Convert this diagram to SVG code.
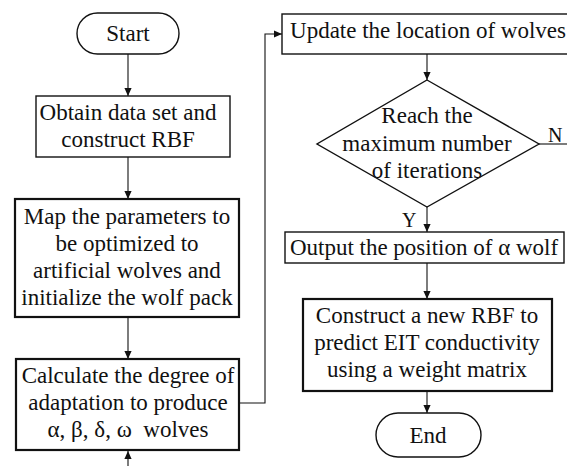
<svg xmlns="http://www.w3.org/2000/svg" width="567" height="466" viewBox="0 0 567 466">
<style>
text{font-family:"Liberation Serif","Times New Roman",serif;font-size:23px;fill:#111;text-anchor:middle}
.thin{fill:#fff;stroke:#111;stroke-width:1.4}
.thick{fill:#fff;stroke:#111;stroke-width:2.2}
.con{fill:none;stroke:#111;stroke-width:1.1}
.lbl{font-size:20px;text-anchor:start}
</style>
<defs>
<marker id="ah" viewBox="0 0 10 10" refX="10" refY="5" markerWidth="8" markerHeight="8" markerUnits="userSpaceOnUse" orient="auto">
<path d="M0,0.5 L10,5 L0,9.5 Z" fill="#111"/>
</marker>
</defs>
<rect width="567" height="466" fill="#fff"/>
<g id="connectors">
<line class="con" x1="128" y1="54" x2="128" y2="96" marker-end="url(#ah)"/>
<line class="con" x1="128" y1="157" x2="128" y2="199" marker-end="url(#ah)"/>
<line class="con" x1="128" y1="317" x2="128" y2="359" marker-end="url(#ah)"/>
<line class="con" x1="128" y1="466" x2="128" y2="451" marker-end="url(#ah)"/>
<polyline class="con" points="239,403 265,403 265,34 282,34" marker-end="url(#ah)"/>
<line class="con" x1="427" y1="54" x2="427" y2="80" marker-end="url(#ah)"/>
<line class="con" x1="539" y1="144" x2="567" y2="144"/>
<line class="con" x1="427" y1="207" x2="427" y2="232" marker-end="url(#ah)"/>
<line class="con" x1="427" y1="263" x2="427" y2="299" marker-end="url(#ah)"/>
<line class="con" x1="427" y1="391" x2="427" y2="413" marker-end="url(#ah)"/>
<text class="lbl" x="548" y="142">N</text>
<text class="lbl" x="402" y="227">Y</text>
</g>
<g id="start">
<rect class="thin" x="77" y="13" width="102" height="41" rx="20.5"/>
<text x="128" y="41">Start</text>
</g>
<g id="obtain">
<rect class="thin" x="36" y="96" width="194" height="61"/>
<text x="128" y="120">Obtain data set and</text>
<text x="128" y="147">construct RBF</text>
</g>
<g id="map">
<rect class="thick" x="15" y="199" width="224" height="118"/>
<text x="127" y="224">Map the parameters to</text>
<text x="127" y="251">be optimized to</text>
<text x="127" y="278">artificial wolves and</text>
<text x="127" y="305">initialize the wolf pack</text>
</g>
<g id="calculate">
<rect class="thick" x="16" y="359" width="223" height="91"/>
<text x="128" y="383">Calculate the degree of</text>
<text x="128" y="410">adaptation to produce</text>
<text x="128" y="437" xml:space="preserve">α, β, δ, ω  wolves</text>
</g>
<g id="update">
<rect class="thin" x="282" y="14" width="292" height="40"/>
<text x="428" y="38">Update the location of wolves</text>
</g>
<g id="decision">
<polygon class="thin" points="427,80 539,144 427,207 317,144"/>
<text x="427" y="123">Reach the</text>
<text x="427" y="151">maximum number</text>
<text x="427" y="178">of iterations</text>
</g>
<g id="output">
<rect class="thin" x="285" y="232" width="279" height="31"/>
<text x="424" y="255">Output the position of α wolf</text>
</g>
<g id="construct">
<rect class="thick" x="303" y="299" width="249" height="92"/>
<text x="427" y="323">Construct a new RBF to</text>
<text x="427" y="350">predict EIT conductivity</text>
<text x="427" y="377">using a weight matrix</text>
</g>
<g id="end">
<rect class="thin" x="376" y="413" width="105" height="44" rx="22"/>
<text x="428" y="443">End</text>
</g>
</svg>
